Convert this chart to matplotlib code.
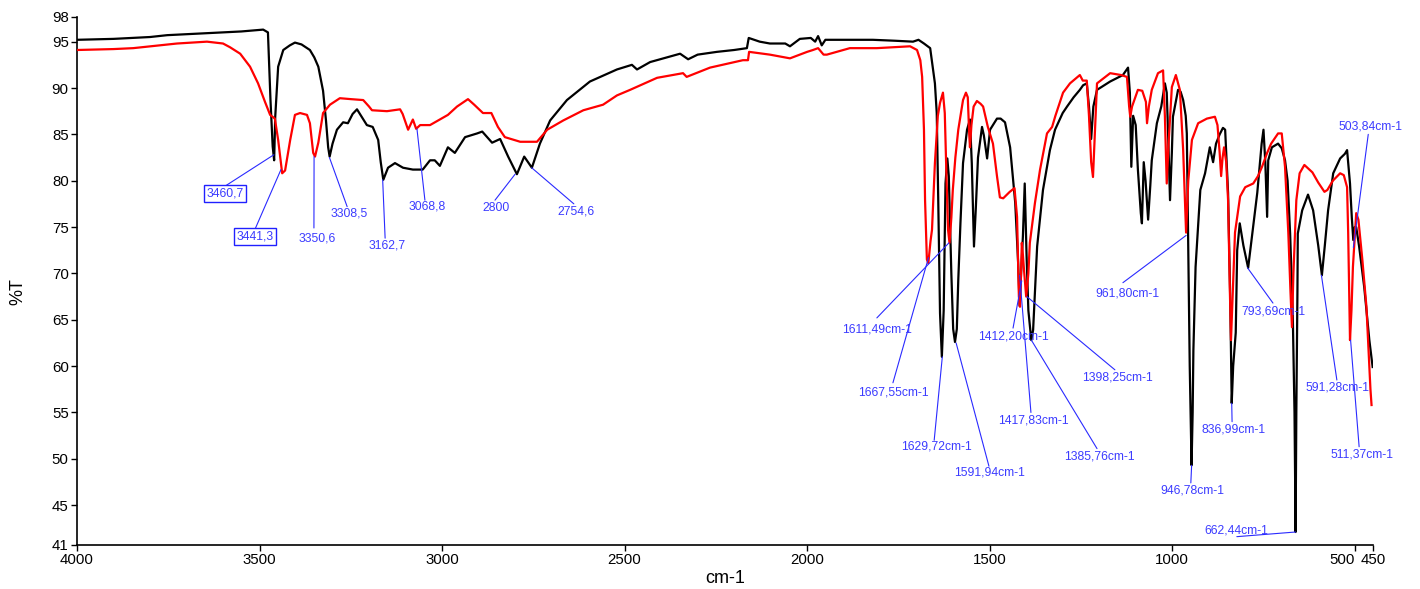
import matplotlib
matplotlib.use('Agg')
import matplotlib.pyplot as plt

# ---------------- data ----------------
black_wn = [4000, 3900, 3800, 3753, 3650, 3550, 3490, 3477, 3470, 3464, 3460, 3457, 3449, 3435, 3417,
            3403, 3385, 3362, 3350, 3339, 3326, 3318, 3312, 3308, 3300, 3288, 3271, 3258, 3245, 3233,
            3222, 3206, 3190, 3175, 3168, 3161, 3148, 3129, 3107, 3080, 3053, 3033, 3020, 3006, 2984,
            2965, 2937, 2904, 2890, 2863, 2841, 2819, 2795, 2775, 2754, 2732, 2704, 2658, 2595, 2521,
            2480, 2466, 2430, 2348, 2326, 2300, 2247, 2200, 2165, 2160, 2130, 2102, 2060, 2047, 2020,
            1990, 1978, 1970, 1960, 1950, 1900, 1820, 1760, 1710, 1695, 1680, 1663, 1650, 1645, 1641,
            1636, 1631, 1626, 1621, 1616, 1612, 1605, 1600, 1595, 1590, 1586, 1580, 1573, 1562, 1554,
            1549, 1543, 1538, 1532, 1521, 1516, 1507, 1499, 1480, 1470, 1458, 1444, 1430, 1422, 1418,
            1414, 1409, 1404, 1399, 1394, 1386, 1381, 1370, 1354, 1335, 1321, 1300, 1288, 1270, 1253,
            1244, 1234, 1228, 1222, 1216, 1206, 1190, 1170, 1135, 1121, 1116, 1112, 1107, 1100, 1094,
            1086, 1083, 1078, 1073, 1066, 1060, 1056, 1042, 1030, 1020, 1015, 1012, 1006, 1001, 998,
            984, 977, 970, 963, 960, 956, 952, 947, 944, 942, 936, 923, 910, 897, 888,
            880, 870, 861, 855, 847, 841, 837, 833, 826, 822, 815, 805, 792, 780, 767,
            755, 750, 745, 740, 737, 727, 710, 700, 691, 684, 677, 670, 665, 662, 660,
            657, 656, 644, 628, 614, 600, 590, 582, 573, 559, 540, 527, 521, 516, 513,
            508, 504, 500, 496, 488, 474, 460, 451]
black_T = [95.2, 95.3, 95.5, 95.7, 95.9, 96.1, 96.3, 96.0, 88.7, 83.7, 82.2, 86.9, 92.3, 94.1, 94.6,
           94.9, 94.7, 94.1, 93.3, 92.3, 89.7, 86.5, 83.6, 82.6, 84.0, 85.5, 86.3, 86.2, 87.2, 87.7,
           87.0, 86.0, 85.8, 84.4, 82.0, 80.1, 81.4, 81.9, 81.4, 81.2, 81.2, 82.2, 82.2, 81.6, 83.6,
           83.0, 84.7, 85.1, 85.3, 84.1, 84.5, 82.6, 80.7, 82.6, 81.4, 84.0, 86.5, 88.7, 90.7, 92.0,
           92.5, 92.0, 92.8, 93.7, 93.1, 93.6, 93.9, 94.1, 94.3, 95.4, 95.0, 94.8, 94.8, 94.5, 95.3,
           95.4, 95.0, 95.6, 94.6, 95.2, 95.2, 95.2, 95.1, 95.0, 95.2, 94.8, 94.3, 90.5, 87.3, 78.2,
           65.7, 61.0, 66.0, 79.7, 82.4, 80.5, 70.0, 64.0, 62.6, 64.0, 69.3, 75.5, 81.9, 85.5, 86.6,
           81.9, 72.9, 77.0, 82.5, 85.8, 84.9, 82.4, 85.5, 86.7, 86.7, 86.3, 83.6, 77.6, 71.1, 66.5,
           70.0, 74.0, 79.7, 72.0, 66.0, 62.8, 63.9, 72.9, 79.0, 83.3, 85.5, 87.3, 88.0, 89.0, 89.8,
           90.3, 90.5, 88.0, 84.5, 88.0, 89.8, 90.2, 90.7, 91.4, 92.2, 89.5, 81.5, 87.0, 86.0, 81.2,
           76.5, 75.4, 82.0, 80.0, 75.8, 79.5, 82.2, 86.2, 88.0, 90.5, 89.5, 86.0, 77.9, 83.0, 86.9,
           89.8, 89.6, 88.7, 87.0, 85.1, 72.5, 60.0, 49.3, 55.0, 61.7, 70.7, 79.0, 80.8, 83.6, 82.0,
           84.0, 85.0, 85.7, 85.5, 78.7, 67.1, 56.0, 60.0, 63.6, 72.5, 75.4, 73.0, 70.6, 74.5, 78.7,
           84.0, 85.5, 82.0, 76.1, 82.2, 83.6, 84.0, 83.5, 82.2, 80.0, 74.3, 66.0, 55.0, 42.1, 55.0,
           68.0, 74.3, 76.8, 78.5, 76.8, 73.0, 69.8, 73.0, 76.8, 80.8, 82.4, 82.9, 83.3, 81.0, 79.7,
           76.0, 73.6, 75.0, 75.0, 72.9, 68.5, 62.8, 59.9]

red_wn = [4000, 3900, 3846, 3726, 3644, 3600, 3581, 3553, 3526, 3504, 3485, 3471, 3458, 3449, 3438,
          3430, 3416, 3403, 3389, 3370, 3362, 3353, 3348, 3339, 3326, 3307, 3280, 3250, 3216, 3200,
          3192, 3151, 3115, 3108, 3093, 3080, 3071, 3060, 3033, 3006, 2984, 2959, 2929, 2912, 2888,
          2865, 2847, 2828, 2786, 2740, 2712, 2668, 2613, 2559, 2521, 2485, 2411, 2340, 2330, 2266,
          2176, 2162, 2159, 2102, 2047, 2000, 1984, 1970, 1955, 1946, 1883, 1809, 1718, 1699, 1690,
          1685, 1680, 1677, 1672, 1668, 1662, 1658, 1650, 1642, 1636, 1628, 1623, 1618, 1614, 1610,
          1605, 1601, 1594, 1586, 1573, 1565, 1560, 1556, 1554, 1550, 1544, 1535, 1525, 1518, 1505,
          1491, 1480, 1472, 1463, 1445, 1432, 1428, 1425, 1420, 1417, 1414, 1412, 1409, 1406, 1400,
          1394, 1390, 1376, 1362, 1343, 1329, 1320, 1299, 1280, 1253, 1245, 1234, 1228, 1222, 1217,
          1212, 1206, 1170, 1140, 1124, 1118, 1115, 1110, 1094, 1082, 1072, 1069, 1064, 1056, 1039,
          1025, 1020, 1015, 1010, 1001, 990, 979, 970, 966, 962, 958, 956, 946, 929, 905,
          883, 876, 870, 866, 862, 858, 852, 847, 842, 839, 836, 832, 828, 814, 800,
          778, 765, 754, 740, 729, 710, 700, 691, 682, 676, 672, 668, 660, 651, 638,
          616, 600, 583, 575, 560, 540, 530, 521, 518, 513, 509, 505, 496, 490, 479,
          468, 460, 457, 454]
red_T = [94.1, 94.2, 94.3, 94.8, 95.0, 94.8, 94.4, 93.7, 92.3, 90.5, 88.5, 87.1, 86.7, 84.4, 80.8,
         81.1, 84.4, 87.1, 87.3, 87.1, 86.2, 83.0, 82.6, 84.1, 87.3, 88.2, 88.9, 88.8, 88.7, 88.0,
         87.6, 87.5, 87.7, 87.2, 85.5, 86.6, 85.6, 86.0, 86.0, 86.6, 87.1, 88.0, 88.8, 88.2, 87.3,
         87.3, 85.8, 84.7, 84.2, 84.2, 85.5, 86.5, 87.6, 88.2, 89.2, 89.8, 91.1, 91.6, 91.2, 92.2,
         93.0, 93.0, 93.9, 93.6, 93.2, 93.9, 94.1, 94.3, 93.6, 93.6, 94.3, 94.3, 94.5, 94.1, 93.0,
         91.2, 85.5, 77.9, 71.5, 71.1, 73.5, 74.7, 81.9, 87.0, 88.4, 89.5, 87.3, 80.0, 74.7, 73.3,
         76.0, 79.0, 82.5, 85.5, 88.7, 89.5, 89.0, 85.0, 83.6, 86.0, 88.0, 88.6, 88.3, 88.0, 85.8,
         84.0, 80.5, 78.2, 78.1, 78.8, 79.2, 77.5, 76.1, 67.5, 66.4, 70.0, 73.3, 72.0, 70.4, 67.5,
         70.0, 73.3, 77.6, 81.2, 85.1, 85.8, 87.0, 89.5, 90.5, 91.4, 90.8, 90.8, 87.0, 82.0, 80.4,
         85.0, 90.5, 91.6, 91.4, 91.2, 88.0, 86.9, 88.0, 89.8, 89.7, 88.5, 86.2, 88.0, 89.8, 91.6,
         91.9, 86.9, 79.7, 84.0, 90.1, 91.4, 89.8, 83.3, 79.0, 74.4, 78.0, 80.0, 84.4, 86.2, 86.7,
         86.9, 86.0, 83.0, 80.5, 82.5, 83.6, 82.0, 77.9, 68.0, 62.8, 66.0, 70.0, 74.4, 78.3, 79.3,
         79.7, 80.5, 81.5, 83.0, 84.0, 85.1, 85.1, 81.5, 74.4, 68.0, 64.2, 70.0, 77.9, 80.8, 81.7,
         80.9, 79.8, 78.8, 79.0, 80.0, 80.8, 80.6, 79.3, 74.4, 62.8, 66.0, 70.7, 76.5, 75.8, 71.4,
         66.4, 59.9, 57.5, 55.8]

peak_labels = ['3460,7', '3441,3', '3350,6', '3308,5', '3162,7', '3068,8', '2800', '2754,6',
               '1667,55cm-1', '1611,49cm-1', '1629,72cm-1', '1591,94cm-1', '1412,20cm-1',
               '1417,83cm-1', '1398,25cm-1', '1385,76cm-1', '961,80cm-1', '946,78cm-1',
               '836,99cm-1', '793,69cm-1', '662,44cm-1', '591,28cm-1', '511,37cm-1', '503,84cm-1']
peak_wn = [3460.7, 3441.3, 3350.6, 3308.5, 3162.7, 3068.8, 2800, 2754.6,
           1667.55, 1611.49, 1629.72, 1591.94, 1412.20,
           1417.83, 1398.25, 1385.76, 961.80, 946.78,
           836.99, 793.69, 662.44, 591.28, 511.37, 503.84]
peak_T = [82.8, 81.2, 82.6, 82.5, 80.1, 85.6, 80.7, 81.4,
          71.7, 73.3, 61.0, 62.5, 69.2,
          69.8, 67.5, 62.8, 74.1, 49.3,
          56.0, 70.6, 42.1, 69.8, 62.8, 72.8]
boxed = [True, True] + [False] * 22

# ---------------- layout (label text centres and leader-line ends) ----------------
label_xy = [(3595, 78.6), (3512, 74.0), (3343, 73.8), (3255, 76.5), (3151, 73.0), (3041, 77.2),
            (2852, 77.1), (2633, 76.7),
            (1765, 57.2), (1809, 64.0), (1647, 51.3), (1499, 48.5), (1436, 63.2),
            (1381, 54.1), (1151, 58.8), (1200, 50.2), (1124, 67.8), (946, 46.6),
            (833, 53.2), (724, 65.9), (825, 42.3), (546, 57.7), (480, 50.5), (458, 85.8)]
line_end = [(3595, 79.4), (3512, 74.8), (3351, 74.9), (3260, 77.2), (3156, 73.8), (3047, 77.9),
            (2855, 77.9), (2639, 77.5),
            (1765, 58.2), (1809, 65.2), (1652, 52.0), (1502, 49.2), (1436, 64.1),
            (1387, 55.0), (1157, 59.6), (1206, 51.1), (1135, 69.0), (949, 47.4),
            (836, 54.0), (724, 66.8), (823, 41.6), (549, 58.5), (488, 51.3), (463, 85.0)]

xticks = [4000, 3500, 3000, 2500, 2000, 1500, 1000, 500, 450]
ylim = (40.7, 97.66)
yticks = [ylim[0], 45, 50, 55, 60, 65, 70, 75, 80, 85, 90, 95, ylim[1]]
ytick_labels = ['41', '45', '50', '55', '60', '65', '70', '75', '80', '85', '90', '95', '98']

# ---------------- plot ----------------
plt.rcParams['font.family'] = ['Liberation Sans', 'DejaVu Sans']
fig = plt.figure(figsize=(14.2, 5.89), dpi=100)
ax = fig.add_axes([77 / 1420, 44 / 589, 1296 / 1420, 528 / 589])

ax.plot(black_wn, black_T, color='black', lw=1.6, zorder=3)
ax.plot(red_wn, red_T, color='#ff0000', lw=1.6, zorder=4)

blue_line = '#2a2aff'
blue_text = '#3c3cff'
for lab, pw, pt, bx, (tx, ty), (lx, ly) in zip(peak_labels, peak_wn, peak_T, boxed, label_xy, line_end):
    ax.annotate('', xy=(pw, pt), xytext=(lx, ly),
                arrowprops=dict(arrowstyle='-', color=blue_line, lw=0.8,
                                shrinkA=0, shrinkB=0), zorder=5)
    kw = {}
    if bx:
        kw['bbox'] = dict(boxstyle='square,pad=0.2', fc='white', ec='#2020ff', lw=1.0)
    ax.text(tx, ty, lab, color=blue_text, fontsize=8.7, ha='center', va='center',
            zorder=6, **kw)

ax.set_xlim(4000, 450)
ax.set_ylim(*ylim)
ax.set_xticks(xticks)
ax.set_xticklabels([str(v) for v in xticks])
ax.set_yticks(yticks)
ax.set_yticklabels(ytick_labels)
ax.tick_params(axis='both', direction='out', length=4, width=1, labelsize=10.8,
               colors='black', pad=2)
# the 500 label sits to the left of its tick so it does not collide with 450
xt_labels = ax.get_xticklabels()
xt_labels[xticks.index(500)].set_horizontalalignment('right')
for s in ['top', 'right']:
    ax.spines[s].set_visible(False)
for s in ['left', 'bottom']:
    ax.spines[s].set_linewidth(1.2)

ax.set_xlabel('cm-1', fontsize=13, labelpad=2)
ax.set_ylabel('%T', fontsize=13)
ax.yaxis.set_label_coords(-0.039, 0.48)

fig.savefig('out.png', dpi=100, facecolor='white')
